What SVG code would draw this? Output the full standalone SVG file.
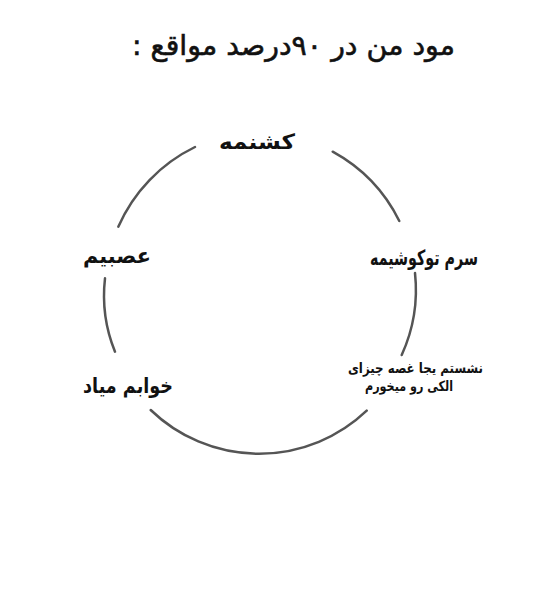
<svg xmlns="http://www.w3.org/2000/svg" width="535" height="600" viewBox="0 0 535 600">
<style>
.t{font-family:"DejaVu Sans",sans-serif;fill:#111;direction:rtl;text-anchor:middle}
.lbl{font-weight:bold;font-size:21px}
.small{font-weight:bold;font-size:14px}
.arc{fill:none;stroke:#555;stroke-width:2.5;stroke-linecap:round}
</style>
<rect width="535" height="600" fill="#ffffff"/>
<g id="title">
<text class="t" x="293.5" y="55" font-size="28" stroke="#111" stroke-width="0.6" textLength="323" lengthAdjust="spacingAndGlyphs">مود من در ۹۰درصد مواقع :</text>
</g>
<g id="connectors">
<path class="arc" d="M118.3 226.7 A160 160 0 0 1 195 147"/>
<path class="arc" d="M332.7 151.7 A160 160 0 0 1 399.3 221"/>
<path class="arc" d="M415 273 A157 157 0 0 1 401.7 355"/>
<path class="arc" d="M366.7 410.7 A156 156 0 0 1 150.7 410"/>
<path class="arc" d="M115 351.7 A150 150 0 0 1 105 278.3"/>
</g>
<g id="node-top">
<text class="t lbl" x="257" y="149" font-size="25" textLength="76" lengthAdjust="spacingAndGlyphs">کشنمه</text>
</g>
<g id="node-right">
<text class="t lbl" x="424" y="265" textLength="108" lengthAdjust="spacingAndGlyphs">سرم توکوشیمه</text>
</g>
<g id="node-bottom-right">
<text class="t small" x="415.5" y="373" textLength="135" lengthAdjust="spacingAndGlyphs">نشستم یجا غصه چیزای</text>
<text class="t small" x="409" y="391" textLength="88" lengthAdjust="spacingAndGlyphs">الکی رو میخورم</text>
</g>
<g id="node-bottom-left">
<text class="t lbl" x="128" y="393" textLength="90" lengthAdjust="spacingAndGlyphs">خوابم میاد</text>
</g>
<g id="node-left">
<text class="t lbl" x="117" y="263" textLength="68" lengthAdjust="spacingAndGlyphs">عصبیم</text>
</g>
</svg>
